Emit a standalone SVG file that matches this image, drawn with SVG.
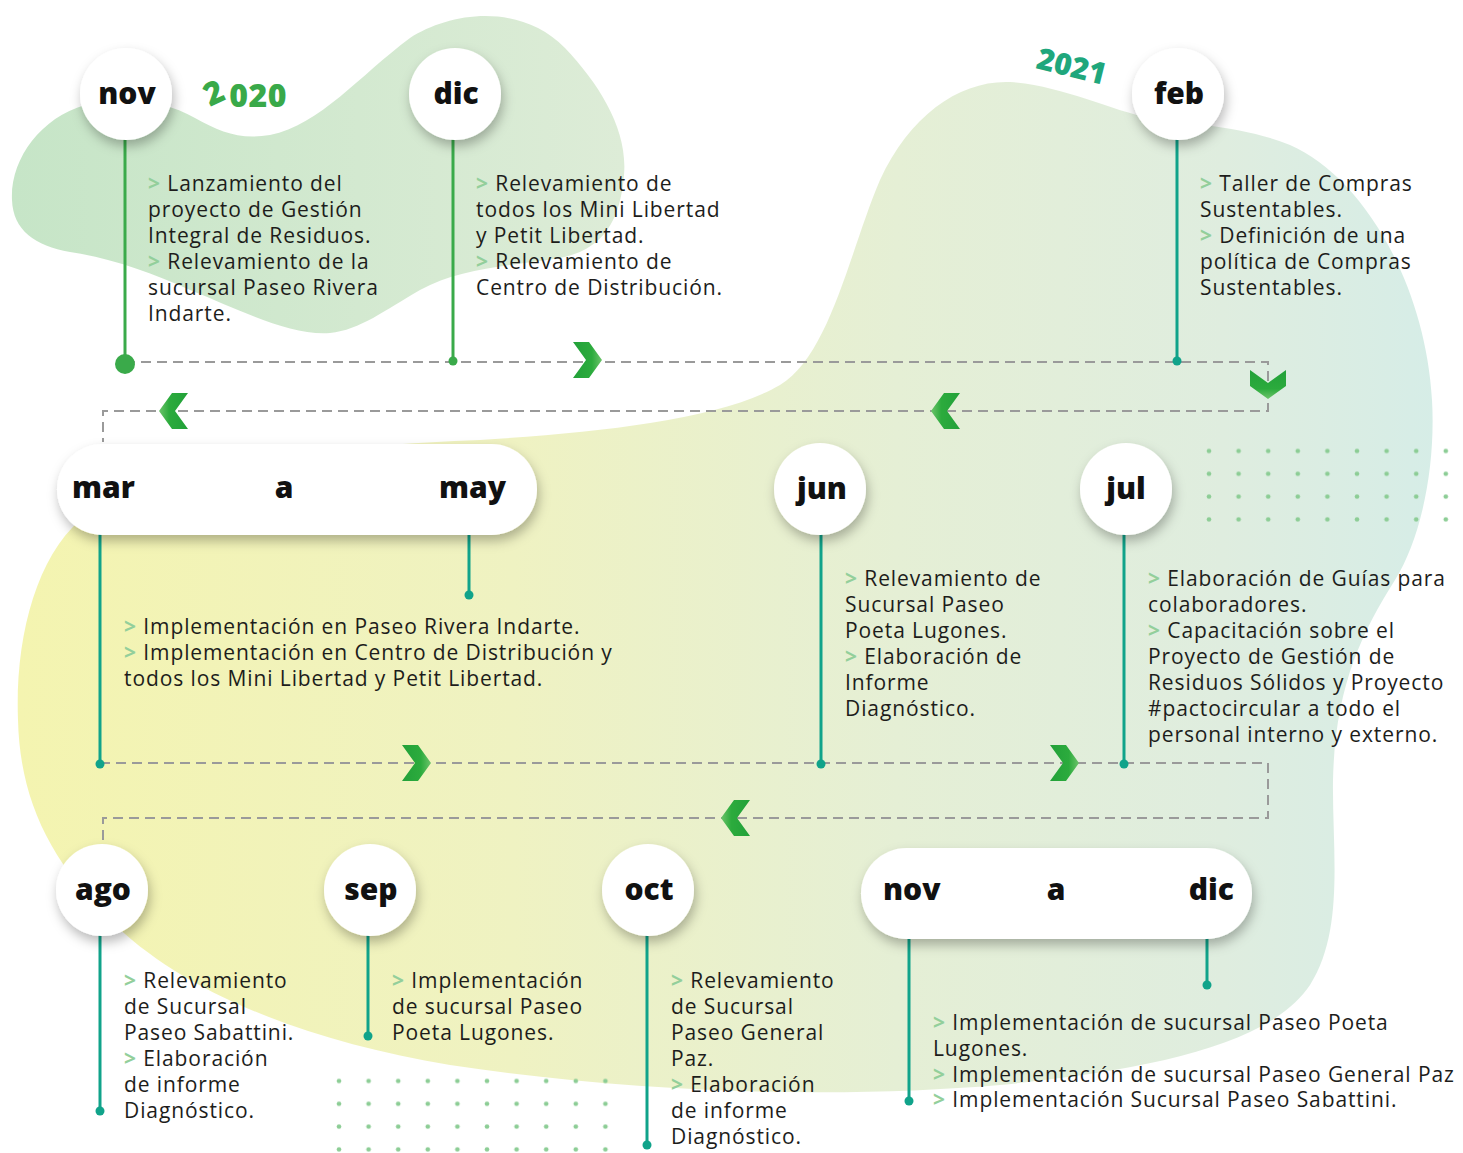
<svg xmlns="http://www.w3.org/2000/svg" width="1463" height="1153" viewBox="0 0 1463 1153">
<defs>
<linearGradient id="blob1" x1="0" y1="0" x2="1" y2="0">
<stop offset="0" stop-color="#c6e5c7"/>
<stop offset="1" stop-color="#ddecd7"/>
</linearGradient>
<linearGradient id="blob2" x1="18" y1="0" x2="1436" y2="0" gradientUnits="userSpaceOnUse">
<stop offset="0" stop-color="#f4f4b0"/>
<stop offset="0.35" stop-color="#eff2c2"/>
<stop offset="0.62" stop-color="#e5efd5"/>
<stop offset="0.85" stop-color="#dfeddf"/>
<stop offset="1" stop-color="#d6ede7"/>
</linearGradient>
<linearGradient id="chev" x1="0" y1="0" x2="1" y2="0">
<stop offset="0" stop-color="#22a139"/>
<stop offset="0.65" stop-color="#2cab3d"/>
<stop offset="1" stop-color="#6dc46b"/>
</linearGradient>
<path id="chv" d="M-15,-18 L1,-18 L14,0 L1,18 L-15,18 L-2,0 Z" fill="url(#chev)"/>
<filter id="sh" x="-30%" y="-30%" width="160%" height="170%">
<feDropShadow dx="2" dy="6" stdDeviation="6" flood-color="#000" flood-opacity="0.28"/>
</filter>
<pattern id="dots2" x="324.2" y="1069.6" width="29.6" height="22.8" patternUnits="userSpaceOnUse">
<circle cx="14.8" cy="11.4" r="2.3" fill="#8ccd95"/>
</pattern>
<pattern id="dots1" x="1194.2" y="439.6" width="29.6" height="22.8" patternUnits="userSpaceOnUse">
<circle cx="14.8" cy="11.4" r="2.3" fill="#8ccd95"/>
</pattern>
</defs>
<style>
.t{font-family:"Open Sans","Liberation Sans",sans-serif;font-size:21px;letter-spacing:0.9px;fill:#1d1d1b}
.g{fill:#93cf9b;font-weight:700}
.m{font-family:"Open Sans","Liberation Sans",sans-serif;font-size:30px;font-weight:800;fill:#111}
.node{fill:#fff;filter:url(#sh)}
.dash{fill:none;stroke:#9a9a9a;stroke-width:2;stroke-dasharray:10 6}
.vg{stroke:#3aaa4a;stroke-width:3;fill:none}
.vt{stroke:#10a38a;stroke-width:3;fill:none}
.dg{fill:#3aaa4a}
.dt{fill:#10a38a}
</style>
<rect width="1463" height="1153" fill="#fff"/>
<g id="background">
<path d="M18 720 C15 640 35 560 80 520 C150 460 350 445 480 440 C600 432 720 420 780 385 C830 355 850 250 880 180 C910 115 960 80 1010 82 C1060 85 1110 110 1150 118 C1190 125 1240 125 1290 145 C1360 175 1425 280 1432 400 C1436 470 1420 540 1395 580 C1360 635 1335 690 1333 780 C1332 850 1345 930 1310 985 C1270 1045 1150 1070 1000 1085 C850 1098 650 1095 450 1065 C300 1040 180 990 110 920 C50 860 20 800 18 720 Z" fill="url(#blob2)"/>
<path d="M12 200 C10 160 40 118 85 105 C120 95 165 100 195 118 C220 132 240 140 270 135 C320 125 360 75 410 38 C450 12 520 2 565 48 C600 85 628 130 624 175 C620 225 600 250 560 258 C510 266 460 268 420 290 C385 310 360 330 330 333 C290 336 240 310 190 290 C150 272 110 258 70 252 C35 246 13 230 12 200 Z" fill="url(#blob1)"/>
<rect x="1194.2" y="439.6" width="266.4" height="91.2" fill="url(#dots1)"/>
<rect x="324.2" y="1069.6" width="296" height="91.2" fill="url(#dots2)"/>
<text x="210" y="107" rotate="-25 0" style="font-family:'Open Sans','Liberation Sans',sans-serif;font-size:32px;font-weight:800;letter-spacing:0.5px;fill:#39a949">2020</text>
<text transform="translate(1035,68) rotate(14)" style="font-family:'Open Sans','Liberation Sans',sans-serif;font-size:30px;font-weight:800;fill:#1fa77c">2021</text>
</g>
<g id="connectors">
<path class="dash" d="M125 362 H1268 V411 H103 V442"/>
<path class="dash" d="M100 763 H1268 V818 H103 V846"/>
<use href="#chv" transform="translate(588,360)"/>
<use href="#chv" transform="translate(173,411) rotate(180)"/>
<use href="#chv" transform="translate(945,411) rotate(180)"/>
<use href="#chv" transform="translate(1268,385) rotate(90)"/>
<use href="#chv" transform="translate(417,763)"/>
<use href="#chv" transform="translate(1065,763)"/>
<use href="#chv" transform="translate(735,818) rotate(180)"/>
<line class="vg" x1="125" y1="138" x2="125" y2="363"/><circle class="dg" cx="125" cy="364" r="10"/>
<line class="vg" x1="453" y1="138" x2="453" y2="361"/><circle class="dg" cx="453" cy="361" r="4.5"/>
<line class="vt" x1="1177" y1="138" x2="1177" y2="361"/><circle class="dt" cx="1177" cy="361" r="4.5"/>
<line class="vt" x1="100" y1="533" x2="100" y2="764"/><circle class="dt" cx="100" cy="764" r="4.5"/>
<line class="vt" x1="469" y1="533" x2="469" y2="595"/><circle class="dt" cx="469" cy="595" r="4.5"/>
<line class="vt" x1="821" y1="533" x2="821" y2="764"/><circle class="dt" cx="821" cy="764" r="4.5"/>
<line class="vt" x1="1124" y1="533" x2="1124" y2="764"/><circle class="dt" cx="1124" cy="764" r="4.5"/>
<line class="vt" x1="100" y1="934" x2="100" y2="1111"/><circle class="dt" cx="100" cy="1111" r="4.5"/>
<line class="vt" x1="368" y1="934" x2="368" y2="1036"/><circle class="dt" cx="368" cy="1036" r="4.5"/>
<line class="vt" x1="647" y1="934" x2="647" y2="1145"/><circle class="dt" cx="647" cy="1145" r="4.5"/>
<line class="vt" x1="909" y1="937" x2="909" y2="1101"/><circle class="dt" cx="909" cy="1101" r="4.5"/>
<line class="vt" x1="1207" y1="937" x2="1207" y2="985"/><circle class="dt" cx="1207" cy="985" r="4.5"/>
</g>
<g id="n-nov2020">
<circle class="node" cx="126" cy="94" r="46"/>
<text class="m" x="127" y="104" text-anchor="middle">nov</text>
<text class="t" x="148" y="191"><tspan class="g">&gt;</tspan> Lanzamiento del<tspan x="148" dy="26">proyecto de Gestión</tspan><tspan x="148" dy="26">Integral de Residuos.</tspan><tspan x="148" dy="26"><tspan class="g">&gt;</tspan> Relevamiento de la</tspan><tspan x="148" dy="26">sucursal Paseo Rivera</tspan><tspan x="148" dy="26">Indarte.</tspan></text>
</g>
<g id="n-dic2020">
<circle class="node" cx="455" cy="94" r="46"/>
<text class="m" x="456" y="104" text-anchor="middle">dic</text>
<text class="t" x="476" y="191"><tspan class="g">&gt;</tspan> Relevamiento de<tspan x="476" dy="26">todos los Mini Libertad</tspan><tspan x="476" dy="26">y Petit Libertad.</tspan><tspan x="476" dy="26"><tspan class="g">&gt;</tspan> Relevamiento de</tspan><tspan x="476" dy="26">Centro de Distribución.</tspan></text>
</g>
<g id="n-feb">
<circle class="node" cx="1178" cy="94" r="46"/>
<text class="m" x="1179" y="104" text-anchor="middle">feb</text>
<text class="t" x="1200" y="191"><tspan class="g">&gt;</tspan> Taller de Compras<tspan x="1200" dy="26">Sustentables.</tspan><tspan x="1200" dy="26"><tspan class="g">&gt;</tspan> Definición de una</tspan><tspan x="1200" dy="26">política de Compras</tspan><tspan x="1200" dy="26">Sustentables.</tspan></text>
</g>
<g id="n-mar-may">
<rect class="node" x="57" y="444" width="480" height="91" rx="45.5"/>
<text class="m" x="72" y="498">mar</text>
<text class="m" x="284" y="498" text-anchor="middle">a</text>
<text class="m" x="506" y="498" text-anchor="end">may</text>
<text class="t" x="124" y="634"><tspan class="g">&gt;</tspan> Implementación en Paseo Rivera Indarte.<tspan x="124" dy="26"><tspan class="g">&gt;</tspan> Implementación en Centro de Distribución y</tspan><tspan x="124" dy="26">todos los Mini Libertad y Petit Libertad.</tspan></text>
</g>
<g id="n-jun">
<circle class="node" cx="820" cy="489" r="46"/>
<text class="m" x="822" y="499" text-anchor="middle">jun</text>
<text class="t" x="845" y="586"><tspan class="g">&gt;</tspan> Relevamiento de<tspan x="845" dy="26">Sucursal Paseo</tspan><tspan x="845" dy="26">Poeta Lugones.</tspan><tspan x="845" dy="26"><tspan class="g">&gt;</tspan> Elaboración de</tspan><tspan x="845" dy="26">Informe</tspan><tspan x="845" dy="26">Diagnóstico.</tspan></text>
</g>
<g id="n-jul">
<circle class="node" cx="1126" cy="489" r="46"/>
<text class="m" x="1126" y="499" text-anchor="middle">jul</text>
<text class="t" x="1148" y="586"><tspan class="g">&gt;</tspan> Elaboración de Guías para<tspan x="1148" dy="26">colaboradores.</tspan><tspan x="1148" dy="26"><tspan class="g">&gt;</tspan> Capacitación sobre el</tspan><tspan x="1148" dy="26">Proyecto de Gestión de</tspan><tspan x="1148" dy="26">Residuos Sólidos y Proyecto</tspan><tspan x="1148" dy="26">#pactocircular a todo el</tspan><tspan x="1148" dy="26">personal interno y externo.</tspan></text>
</g>
<g id="n-ago">
<circle class="node" cx="102" cy="890" r="46"/>
<text class="m" x="103" y="900" text-anchor="middle">ago</text>
<text class="t" x="124" y="988"><tspan class="g">&gt;</tspan> Relevamiento<tspan x="124" dy="26">de Sucursal</tspan><tspan x="124" dy="26">Paseo Sabattini.</tspan><tspan x="124" dy="26"><tspan class="g">&gt;</tspan> Elaboración</tspan><tspan x="124" dy="26">de informe</tspan><tspan x="124" dy="26">Diagnóstico.</tspan></text>
</g>
<g id="n-sep">
<circle class="node" cx="370" cy="890" r="46"/>
<text class="m" x="371" y="900" text-anchor="middle">sep</text>
<text class="t" x="392" y="988"><tspan class="g">&gt;</tspan> Implementación<tspan x="392" dy="26">de sucursal Paseo</tspan><tspan x="392" dy="26">Poeta Lugones.</tspan></text>
</g>
<g id="n-oct">
<circle class="node" cx="648" cy="890" r="46"/>
<text class="m" x="649" y="900" text-anchor="middle">oct</text>
<text class="t" x="671" y="988"><tspan class="g">&gt;</tspan> Relevamiento<tspan x="671" dy="26">de Sucursal</tspan><tspan x="671" dy="26">Paseo General</tspan><tspan x="671" dy="26">Paz.</tspan><tspan x="671" dy="26"><tspan class="g">&gt;</tspan> Elaboración</tspan><tspan x="671" dy="26">de informe</tspan><tspan x="671" dy="26">Diagnóstico.</tspan></text>
</g>
<g id="n-nov-dic">
<rect class="node" x="861" y="848" width="391" height="91" rx="45.5"/>
<text class="m" x="883" y="900">nov</text>
<text class="m" x="1056" y="900" text-anchor="middle">a</text>
<text class="m" x="1234" y="900" text-anchor="end">dic</text>
<text class="t" x="933" y="1030"><tspan class="g">&gt;</tspan> Implementación de sucursal Paseo Poeta<tspan x="933" dy="26">Lugones.</tspan><tspan x="933" dy="25.5"><tspan class="g">&gt;</tspan> Implementación de sucursal Paseo General Paz</tspan><tspan x="933" dy="25.5"><tspan class="g">&gt;</tspan> Implementación Sucursal Paseo Sabattini.</tspan></text>
</g>
</svg>
